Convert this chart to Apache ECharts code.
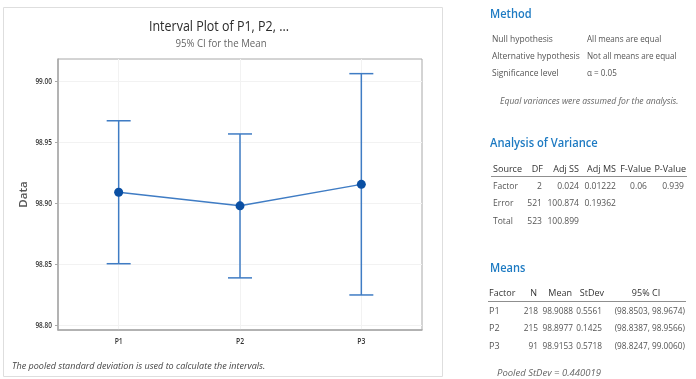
<!DOCTYPE html>
<html>
<head>
<meta charset="utf-8">
<script src="https://cdn.jsdelivr.net/npm/echarts@6/dist/echarts.min.js"></script>
<style>
html,body{margin:0;padding:0;background:#fff;}
#c{width:696px;height:379px;}
</style>
</head>
<body>
<div id="c"></div>
<script>
// ---- data ----
const categories = ['P1', 'P2', 'P3'];
const means = [98.9088, 98.8977, 98.9153];
const ciLow = [98.8503, 98.8387, 98.8247];
const ciHigh = [98.9674, 98.9566, 99.0060];
const ns = [218, 215, 91];
const stdevs = [0.5561, 0.1425, 0.5718];
const yTicks = [98.80, 98.85, 98.90, 98.95, 99.00];

const chartTitle = 'Interval Plot of P1, P2, ...';
const chartSubtitle = '95% CI for the Mean';
const methodRows = [
  ['Null hypothesis', 'All means are equal'],
  ['Alternative hypothesis', 'Not all means are equal'],
  ['Significance level', 'α = 0.05']
];
const methodNote = 'Equal variances were assumed for the analysis.';
const anovaHeader = ['Source', 'DF', 'Adj SS', 'Adj MS', 'F-Value', 'P-Value'];
const anovaRows = [
  ['Factor', '2', '0.024', '0.01222', '0.06', '0.939'],
  ['Error', '521', '100.874', '0.19362', '', ''],
  ['Total', '523', '100.899', '', '', '']
];
const meansHeader = ['Factor', 'N', 'Mean', 'StDev', '95% CI'];
const pooledNote = 'Pooled StDev = 0.440019';
const footnote = 'The pooled standard deviation is used to calculate the intervals.';

const FONT = '"Open Sans", "Noto Sans", sans-serif';
const chart = echarts.init(document.getElementById('c'), null, {renderer: 'canvas'});

const graphics = [];
graphics.push({type: 'rect', shape: {x: 3.5, y: 7.5, width: 439, height: 369},
  style: {fill: 'none', stroke: '#dedede', lineWidth: 1}, z: -1});

function txt(x, y, s, opt) {
  opt = opt || {};
  graphics.push({type: 'text', x: x, y: y, scaleX: opt.sx || 1, z: 10, style: {text: s,
    font: (opt.style || 'normal') + ' ' + (opt.weight || 'normal') + ' ' + (opt.size || 9) + 'px ' + FONT,
    fill: opt.color || '#555', align: opt.align || 'left', verticalAlign: 'middle'}});
}
function hline(x1, x2, y) {
  graphics.push({type: 'line', shape: {x1: x1, y1: y, x2: x2, y2: y},
    style: {stroke: '#8f8f8f', lineWidth: 1}});
}

// chart titles & footnote
txt(219, 27, chartTitle, {size: 14.5, color: '#2b2b2b', weight: 500, align: 'center', sx: 0.86});
txt(221, 44, chartSubtitle, {size: 11, color: '#666', align: 'center', sx: 0.88});
txt(12, 366, footnote, {style: 'italic', size: 9.5, color: '#444', sx: 0.95});

const HEAD = '#1d7ac2';
// Method
txt(490, 14, 'Method', {size: 13, color: HEAD, weight: '600', sx: 0.85});
methodRows.forEach((r, i) => {
  txt(492, 39 + i * 17, r[0], {sx: 0.94});
  txt(587, 39 + i * 17, r[1], {sx: 0.9});
});
txt(500, 102, methodNote, {style: 'italic', size: 8.6, color: '#666'});

// ANOVA
txt(490, 143, 'Analysis of Variance', {size: 13, color: HEAD, weight: '600', sx: 0.86});
const aX = [493, 543, 579, 616, 651, 686];
const aAl = ['left', 'right', 'right', 'right', 'right', 'right'];
anovaHeader.forEach((h, j) => txt(aX[j], 169, h, {align: aAl[j], color: '#333', size: 9.5, sx: 0.95}));
const aRX = [493, 542, 579, 616, 647, 684];
hline(491, 687, 176.5);
anovaRows.forEach((r, i) => r.forEach((c, j) => {
  if (c) txt(aRX[j], 186 + i * 17.5, c, {align: aAl[j], sx: 0.95});
}));

// Means
txt(490, 268, 'Means', {size: 13, color: HEAD, weight: '600', sx: 0.85});
const mX = [489, 537, 572, 604, 646];
const mAl = ['left', 'right', 'right', 'right', 'center'];
meansHeader.forEach((h, j) => txt(mX[j], 293, h, {align: mAl[j], color: '#333', size: 9.5, sx: 0.95}));
hline(488, 686, 301.5);
categories.forEach((cat, i) => {
  const y = 311 + i * 17.5;
  txt(489, y, cat);
  txt(538, y, String(ns[i]), {align: 'right', sx: 0.92});
  txt(573, y, means[i].toFixed(4), {align: 'right', sx: 0.92});
  txt(602, y, stdevs[i].toFixed(4), {align: 'right', sx: 0.92});
  txt(685, y, '(' + ciLow[i].toFixed(4) + ', ' + ciHigh[i].toFixed(4) + ')', {align: 'right', sx: 0.92});
});
txt(497, 373, pooledNote, {style: 'italic', size: 9.5, color: '#666'});

const BAR = '#3f7cc4';
const option = {
  animation: false,
  backgroundColor: '#fff',
  grid: {left: 58, top: 59, right: 274, bottom: 49, show: true,
    borderColor: '#a8a8a8', borderWidth: 1},
  xAxis: {
    type: 'category', data: categories, boundaryGap: true,
    axisLine: {lineStyle: {color: '#a8a8a8', width: 1.5}},
    axisTick: {alignWithLabel: true, length: 3, lineStyle: {color: '#a8a8a8'}},
    axisLabel: {show: false},
    splitLine: {show: true, alignWithLabel: true, lineStyle: {color: '#f2f2f2'}}
  },
  yAxis: {
    type: 'value', min: 98.796, max: 99.018,
    name: 'Data', nameLocation: 'middle', nameGap: 28, nameRotate: 90,
    nameTextStyle: {fontFamily: FONT, fontSize: 11.5, fontWeight: 600, color: '#555'},
    axisLine: {show: true, lineStyle: {color: '#a8a8a8', width: 1.5}},
    axisTick: {show: true, length: 3, customValues: yTicks, lineStyle: {color: '#a8a8a8'}},
    axisLabel: {show: false, customValues: yTicks},
    splitLine: {show: true, lineStyle: {color: '#f2f2f2'}}
  },
  series: [
    {
      type: 'custom',
      data: categories.map((c, i) => [i, ciLow[i], ciHigh[i]]),
      encode: {x: 0, y: [1, 2]},
      renderItem: function (params, api) {
        const lo = api.coord([api.value(0), api.value(1)]);
        const hi = api.coord([api.value(0), api.value(2)]);
        const hw = 12;
        const st = {stroke: BAR, lineWidth: 1.5};
        return {type: 'group', children: [
          {type: 'line', shape: {x1: lo[0], y1: lo[1], x2: hi[0], y2: hi[1]}, style: st},
          {type: 'line', shape: {x1: lo[0] - hw, y1: lo[1], x2: lo[0] + hw, y2: lo[1]}, style: st},
          {type: 'line', shape: {x1: hi[0] - hw, y1: hi[1], x2: hi[0] + hw, y2: hi[1]}, style: st}
        ]};
      },
      z: 2
    },
    {
      type: 'line', data: means,
      symbol: 'circle', symbolSize: 9,
      lineStyle: {color: BAR, width: 1.5},
      itemStyle: {color: '#0a4fa3'},
      z: 3
    }
  ]
};
chart.setOption(option);

// axis tick labels placed through the chart's own scales (narrow, like the original)
yTicks.forEach(v => {
  const py = chart.convertToPixel({yAxisIndex: 0}, v);
  txt(52, py, v.toFixed(2), {align: 'right', size: 9, weight: 600, color: '#333', sx: 0.72});
});
categories.forEach((c, i) => {
  const px = chart.convertToPixel({xAxisIndex: 0}, c);
  txt(px, 342, c, {align: 'center', size: 8.5, weight: 600, color: '#333', sx: 0.8});
});
chart.setOption({graphic: graphics});
</script>
</body>
</html>
